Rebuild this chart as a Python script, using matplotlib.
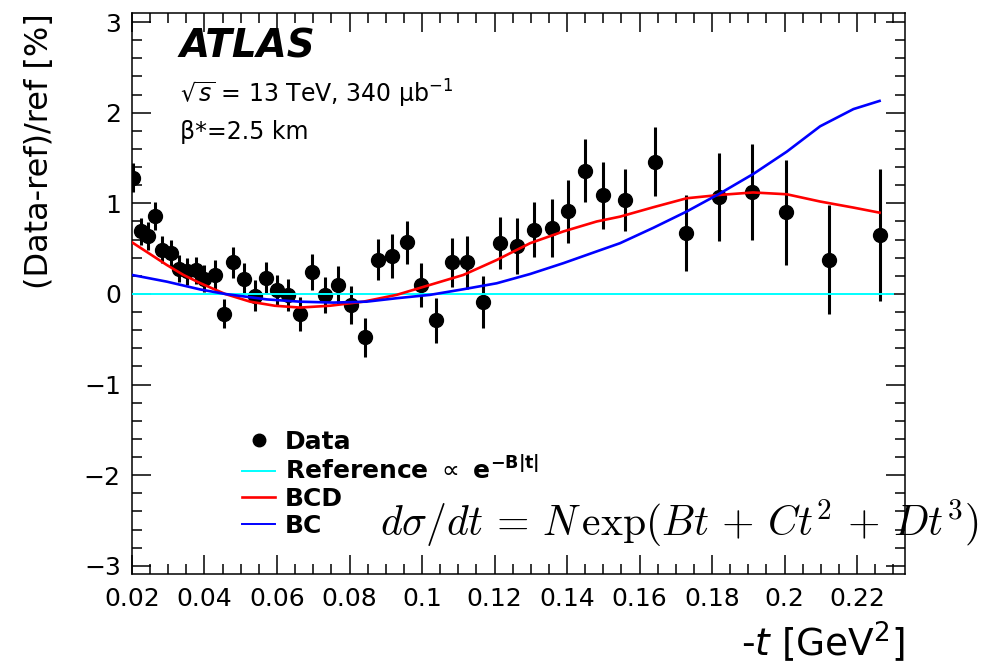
import numpy as np
import matplotlib.pyplot as plt
from matplotlib.ticker import MultipleLocator
from matplotlib.lines import Line2D

plt.rcParams['font.family'] = ['DejaVu Sans']
plt.rcParams['mathtext.fontset'] = 'dejavusans'

# measured points: -t [GeV^2], (data-ref)/ref [%], stat. error
t_data = [0.0204, 0.0224, 0.0245, 0.0263, 0.0282, 0.0307, 0.0331, 0.0351,
          0.0377, 0.0399, 0.0429, 0.0454, 0.0480, 0.0509, 0.0539, 0.0569,
          0.0599, 0.0631, 0.0663, 0.0696, 0.0732, 0.0767, 0.0804, 0.0843,
          0.0879, 0.0918, 0.0958, 0.0996, 0.1039, 0.1082, 0.1123, 0.1169,
          0.1215, 0.1261, 0.1309, 0.1358, 0.1404, 0.1450, 0.1498, 0.1560,
          0.1643, 0.1728, 0.1818, 0.1909, 0.2003, 0.2123, 0.2263]
ratio = [1.28, 0.69, 0.64, 0.86, 0.49, 0.45, 0.28, 0.25,
         0.26, 0.17, 0.21, -0.22, 0.35, 0.17, -0.02, 0.18,
         0.04, -0.01, -0.22, 0.24, -0.01, 0.10, -0.12, -0.48,
         0.38, 0.42, 0.57, 0.10, -0.29, 0.35, 0.35, -0.09,
         0.56, 0.53, 0.71, 0.73, 0.91, 1.36, 1.09, 1.04,
         1.46, 0.67, 1.07, 1.12, 0.90, 0.38, 0.65]
ratio_err = [0.16, 0.15, 0.15, 0.15, 0.15, 0.15, 0.15, 0.15,
             0.15, 0.15, 0.16, 0.16, 0.17, 0.17, 0.17, 0.17,
             0.17, 0.18, 0.19, 0.20, 0.20, 0.21, 0.21, 0.22,
             0.23, 0.24, 0.24, 0.24, 0.25, 0.27, 0.29, 0.29,
             0.29, 0.31, 0.30, 0.32, 0.35, 0.35, 0.37, 0.34,
             0.38, 0.42, 0.49, 0.53, 0.58, 0.60, 0.73]

# fit curves relative to the exponential reference
t_bcd = [0.0200, 0.0250, 0.0296, 0.0342, 0.0388, 0.0457, 0.0526, 0.0594,
         0.0663, 0.0746, 0.0838, 0.0930, 0.1022, 0.1114, 0.1206, 0.1298,
         0.1390, 0.1482, 0.1546, 0.1638, 0.1730, 0.1822, 0.1913, 0.2006,
         0.2098, 0.2190, 0.2262]
ratio_bcd = [0.57, 0.44, 0.32, 0.21, 0.12, 0.00, -0.085, -0.13,
             -0.15, -0.13, -0.085, -0.01, 0.10, 0.21, 0.375, 0.56,
             0.69, 0.80, 0.853, 0.957, 1.056, 1.093, 1.12, 1.10,
             1.02, 0.953, 0.897]

t_bc = [0.0200, 0.0296, 0.0388, 0.0457, 0.0572, 0.0663, 0.0755, 0.0847,
        0.0930, 0.1022, 0.1114, 0.1206, 0.1298, 0.1390, 0.1482, 0.1546,
        0.1638, 0.1730, 0.1822, 0.1914, 0.2006, 0.2098, 0.2190, 0.2262]
ratio_bc = [0.21, 0.136, 0.05, 0.00, -0.06, -0.085, -0.095, -0.085,
            -0.047, -0.01, 0.052, 0.118, 0.22, 0.34, 0.47, 0.56,
            0.73, 0.91, 1.11, 1.325, 1.57, 1.85, 2.04, 2.13]

t_ref = [0.02, 0.23]
ratio_ref = [0.0, 0.0]

fig = plt.figure(figsize=(9.9, 6.67), dpi=100)
ax = fig.add_axes([0.1333, 0.1394, 0.7808, 0.8411])

ax.plot(t_ref, ratio_ref, color='#00ffff', lw=1.4, zorder=3)
ax.errorbar(t_data, ratio, yerr=ratio_err, fmt='o', color='black', ms=10,
            elinewidth=2.2, capsize=0, zorder=2)
ax.plot(t_bcd, ratio_bcd, color='#ff0000', lw=1.9, zorder=4)
ax.plot(t_bc, ratio_bc, color='#0000ff', lw=1.9, zorder=4)

ax.set_xlim(0.02, 0.2332)
ax.set_ylim(-3.09, 3.1)
ax.xaxis.set_minor_locator(MultipleLocator(0.005))
ax.yaxis.set_major_locator(MultipleLocator(1))
ax.yaxis.set_minor_locator(MultipleLocator(0.2))
ax.set_xticks(np.arange(0.02, 0.2301, 0.02))
ax.set_xticklabels(['0.02', '0.04', '0.06', '0.08', '0.1', '0.12',
                    '0.14', '0.16', '0.18', '0.2', '0.22'])
ax.tick_params(which='both', direction='in', top=True, right=True,
               width=1.1, labelsize=18)
ax.tick_params(which='major', length=14)
ax.tick_params(which='minor', length=7)
ax.tick_params(axis='x', pad=9)
ax.tick_params(axis='y', pad=8)
for s in ax.spines.values():
    s.set_linewidth(1.1)

ax.set_ylabel('(Data-ref)/ref [%]', fontsize=23, loc='top')
ax.yaxis.set_label_coords(-0.10, 1.0)
ax.set_xlabel(r'-$t$ [GeV$^2$]', fontsize=27, loc='right')
ax.xaxis.set_label_coords(1.0, -0.08)

ax.text(0.062, 0.921, 'ATLAS', transform=ax.transAxes, fontsize=28,
        fontweight='bold', fontstyle='italic')
ax.text(0.062, 0.840, r'$\sqrt{s}$ = 13 TeV, 340 μb$^{\mathregular{-1}}$',
        transform=ax.transAxes, fontsize=17)
ax.text(0.062, 0.775, 'β*=2.5 km', transform=ax.transAxes, fontsize=17)

ax.text(0.321, 0.091,
        r'$d\sigma/dt\,=\,N\,\exp(Bt\,+\,Ct^2\,+\,Dt^3)$',
        transform=ax.transAxes, fontsize=30, math_fontfamily='cm',
        va='center', clip_on=False)

handles = [
    Line2D([], [], ls='none', marker='o', color='black', ms=9),
    Line2D([], [], color='#00ffff', lw=1.4),
    Line2D([], [], color='#ff0000', lw=1.9),
    Line2D([], [], color='#0000ff', lw=1.4),
]
labels = ['Data', r'Reference $\propto$ e$^{\mathbf{-B|t|}}$', 'BCD', 'BC']
leg = ax.legend(handles, labels, loc='upper left', bbox_to_anchor=(0.13, 0.275),
                frameon=False, handlelength=1.3, handletextpad=0.4,
                labelspacing=0.1, borderaxespad=0,
                prop={'size': 18, 'weight': 'bold'})

fig.savefig('out.png', dpi=100)
